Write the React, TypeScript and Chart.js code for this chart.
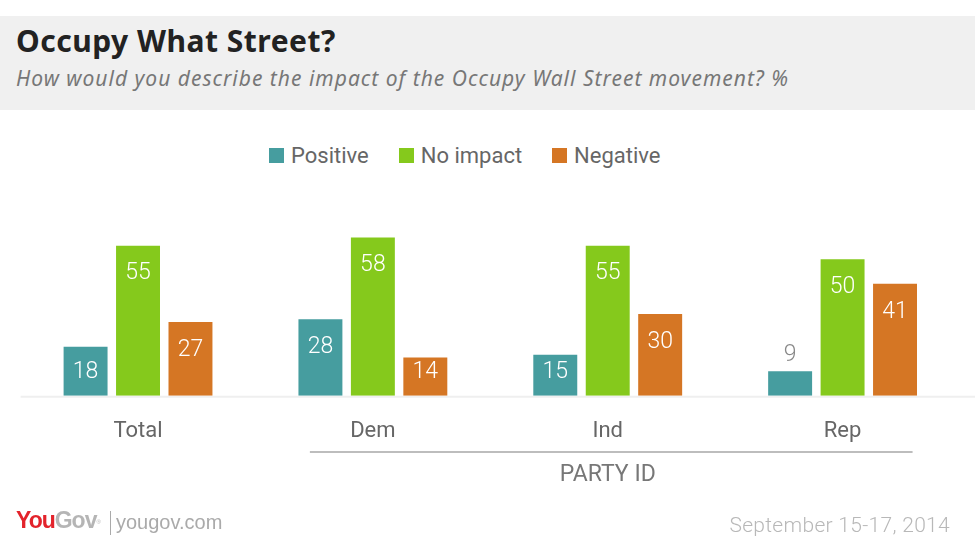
import React, { useEffect, useRef } from "react";
import { Chart, registerables } from "chart.js";

Chart.register(...registerables);

const categories = ["Total", "Dem", "Ind", "Rep"];
const seriesLabels = ["Positive", "No impact", "Negative"];
const positive = [18, 28, 15, 9];
const noImpact = [55, 58, 55, 50];
const negative = [27, 14, 30, 41];
const seriesColors = ["#469d9f", "#85c91c", "#d57624"];
const groupLabel = "PARTY ID";

const labelPlugin = {
  id: "valueLabels",
  beforeDatasetsDraw(chart: any) {
    const { ctx, chartArea } = chart;
    const base = chart.scales.y.getPixelForValue(0);
    ctx.save();
    ctx.strokeStyle = "#efefef";
    ctx.lineWidth = 2;
    ctx.beginPath();
    ctx.moveTo(chartArea.left, base + 1);
    ctx.lineTo(chart.width, base + 1);
    ctx.stroke();
    ctx.restore();
  },
  afterDatasetsDraw(chart: any) {
    const { ctx } = chart;
    const base = chart.scales.y.getPixelForValue(0);
    ctx.save();
    ctx.font = "300 23px Roboto";
    ctx.textAlign = "center";
    ctx.textBaseline = "middle";
    chart.data.datasets.forEach((ds: any, i: number) => {
      const meta = chart.getDatasetMeta(i);
      meta.data.forEach((bar: any, j: number) => {
        const v = ds.data[j];
        const top = bar.y;
        const h = base - top;
        if (h < 30) {
          ctx.fillStyle = "#888888";
          ctx.fillText(String(v), bar.x, top - 16);
        } else {
          ctx.fillStyle = "#ffffff";
          ctx.fillText(String(v), bar.x, Math.min(top + 28, base - 24));
        }
      });
    });
    ctx.restore();
  },
  afterDraw(chart: any) {
    const { ctx } = chart;
    const x = chart.scales.x;
    const x1 = x.getPixelForValue(1) - 63;
    const x2 = x.getPixelForValue(3) + 70;
    const lineY = 452;
    ctx.save();
    ctx.strokeStyle = "#bdbdbd";
    ctx.lineWidth = 2;
    ctx.beginPath();
    ctx.moveTo(x1, lineY);
    ctx.lineTo(x2, lineY);
    ctx.stroke();
    ctx.fillStyle = "#777777";
    ctx.font = "23px Roboto";
    ctx.textAlign = "center";
    ctx.textBaseline = "middle";
    ctx.fillText(groupLabel, x.getPixelForValue(2), 475);
    ctx.restore();
  },
};

export default function App() {
  const ref = useRef<HTMLCanvasElement | null>(null);

  useEffect(() => {
    if (!ref.current) return;
    const data = [positive, noImpact, negative];
    const chart = new Chart(ref.current, {
      type: "bar",
      data: {
        labels: categories,
        datasets: seriesLabels.map((label, i) => ({
          label,
          data: data[i],
          backgroundColor: seriesColors[i],
          borderWidth: 0,
          categoryPercentage: 0.67,
          barPercentage: 0.838,
        })),
      },
      options: {
        animation: false,
        responsive: false,
        maintainAspectRatio: false,
        layout: { padding: { left: 20.6, right: 15, top: 232, bottom: 89.8 } },
        plugins: {
          legend: { display: false },
          tooltip: { enabled: false },
          title: { display: false },
        },
        scales: {
          x: {
            grid: { display: false },
            border: { display: false },
            ticks: {
              color: "#666666",
              font: { family: "Roboto", size: 22 },
              padding: 14,
            },
          },
          y: {
            display: false,
            min: 0,
            max: 60,
          },
        },
      },
      plugins: [labelPlugin],
    });
    return () => chart.destroy();
  }, []);

  const legendItems = seriesLabels.map((l, i) => (
    <div key={l} style={{ display: "flex", alignItems: "center", marginRight: i < 2 ? 30 : 0 }}>
      <div style={{ width: 15, height: 15, background: seriesColors[i], marginRight: 7 }} />
      <span>{l}</span>
    </div>
  ));

  return (
    <div style={{ position: "absolute", left: 0, top: 0, width: 975, height: 548, background: "#ffffff", overflow: "hidden" }}>
      <div style={{ position: "absolute", left: 0, top: 16, width: 975, height: 94, background: "#f0f0f0" }} />
      <div style={{ position: "absolute", left: 16, top: 21, fontFamily: "'Noto Sans'", fontWeight: 700, fontSize: 30, letterSpacing: 0.5, lineHeight: "40px", color: "#222222", whiteSpace: "nowrap" }}>
        Occupy What Street?
      </div>
      <div style={{ position: "absolute", left: 16, top: 63, fontFamily: "'Noto Sans'", fontStyle: "italic", fontSize: 21, letterSpacing: 1, lineHeight: "30px", color: "#777777", whiteSpace: "nowrap" }}>
        How would you describe the impact of the Occupy Wall Street movement? %
      </div>
      <div style={{ position: "absolute", left: 269, top: 140, height: 30, display: "flex", alignItems: "center", fontFamily: "Roboto", fontSize: 22, color: "#666666", whiteSpace: "nowrap" }}>
        {legendItems}
      </div>
      <canvas ref={ref} width={975} height={548} style={{ position: "absolute", left: 0, top: 0, width: 975, height: 548 }} />
      <div style={{ position: "absolute", left: 16, top: 505, fontFamily: "'Liberation Sans'", fontWeight: 700, fontSize: 23, lineHeight: "30px", letterSpacing: -1, whiteSpace: "nowrap" }}>
        <span style={{ color: "#e3232b" }}>You</span>
        <span style={{ color: "#b5b5b5" }}>Gov</span>
        <sup style={{ color: "#b5b5b5", fontSize: 6, fontWeight: 400, verticalAlign: "top", position: "relative", top: 2 }}>®</sup>
      </div>
      <div style={{ position: "absolute", left: 110, top: 511, width: 1, height: 24, background: "#aaaaaa" }} />
      <div style={{ position: "absolute", left: 116, top: 509, fontFamily: "'Liberation Sans'", fontSize: 20, lineHeight: "26px", color: "#aaaaaa", whiteSpace: "nowrap" }}>
        yougov.com
      </div>
      <div style={{ position: "absolute", right: 25, top: 512, fontFamily: "Roboto", fontWeight: 300, fontSize: 21, letterSpacing: 0.3, lineHeight: "26px", color: "#b8b8b8", whiteSpace: "nowrap" }}>
        September 15-17, 2014
      </div>
    </div>
  );
}
